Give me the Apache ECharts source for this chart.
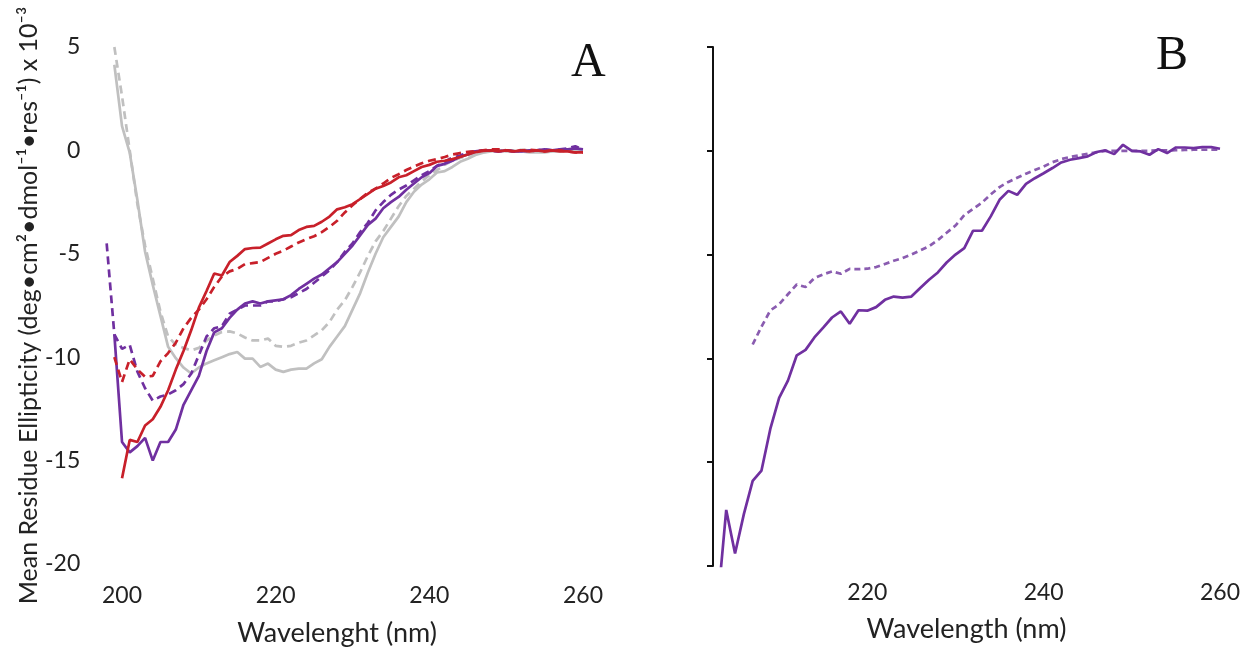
<!DOCTYPE html>
<html>
<head>
<meta charset="utf-8">
<script src="https://cdn.jsdelivr.net/npm/echarts@6/dist/echarts.min.js"></script>
<style>html,body{margin:0;padding:0;background:#fff}#c{width:1243px;height:652px}</style>
</head>
<body>
<div id="c"></div>
<script>
// Panel A wavelengths (nm)
const wlA = [198,199,200,201,202,203,204,205,206,207,208,209,210,211,212,213,214,215,216,217,218,219,220,221,222,223,224,225,226,227,228,229,230,231,232,233,234,235,236,237,238,239,240,241,242,243,244,245,246,247,248,249,250,251,252,253,254,255,256,257,258,259,260];
const purpleSolidA = [null,-8.9,-14.1,-14.6,-14.3,-13.9,-15.0,-14.1,-14.1,-13.5,-12.3,-11.6,-10.9,-9.7,-8.8,-8.6,-8.1,-7.7,-7.4,-7.3,-7.4,-7.3,-7.25,-7.2,-7.0,-6.7,-6.45,-6.2,-6.0,-5.7,-5.4,-5.0,-4.6,-4.1,-3.6,-3.3,-2.8,-2.5,-2.25,-1.9,-1.6,-1.3,-1.1,-0.75,-0.65,-0.5,-0.3,-0.2,-0.05,0,0,-0.05,0,-0.05,-0.05,0,0,0.05,0,0.05,0.05,0.1,0.05];
const purpleDashA = [-4.5,-8.9,-9.6,-9.4,-10.7,-11.5,-12.1,-11.9,-11.8,-11.6,-11.3,-10.8,-9.9,-9.0,-8.6,-8.5,-7.9,-7.7,-7.5,-7.5,-7.5,-7.3,-7.3,-7.2,-7.1,-6.9,-6.7,-6.4,-6.1,-5.8,-5.4,-4.9,-4.5,-3.95,-3.5,-2.9,-2.5,-2.15,-1.9,-1.7,-1.45,-1.2,-1.0,-0.75,-0.55,-0.35,-0.25,-0.1,-0.05,0,0,-0.05,0,-0.05,0,-0.05,0,0.05,0,0.05,0.1,0.2,0.05];
const redSolidA = [null,null,-15.85,-14.0,-14.1,-13.3,-13.0,-12.4,-11.6,-10.6,-9.7,-8.7,-7.6,-6.8,-5.95,-6.05,-5.4,-5.1,-4.77,-4.72,-4.7,-4.5,-4.3,-4.13,-4.1,-3.85,-3.7,-3.65,-3.45,-3.2,-2.85,-2.75,-2.6,-2.35,-2.1,-1.85,-1.72,-1.55,-1.3,-1.2,-1.0,-0.8,-0.7,-0.55,-0.5,-0.42,-0.32,-0.2,-0.08,-0.02,0,-0.05,0,-0.05,0,-0.05,0,-0.05,0,-0.05,-0.05,-0.1,-0.1];
const redDashA = [null,-10.0,-11.2,-10.1,-10.6,-10.95,-10.9,-10.2,-9.8,-9.3,-8.6,-8.1,-7.7,-7.2,-6.6,-6.1,-5.85,-5.73,-5.5,-5.45,-5.4,-5.2,-5.0,-4.85,-4.65,-4.45,-4.29,-4.15,-3.95,-3.7,-3.4,-3.0,-2.65,-2.35,-2.05,-1.85,-1.6,-1.33,-1.15,-0.95,-0.78,-0.62,-0.5,-0.42,-0.32,-0.2,-0.13,-0.07,-0.04,0,0.05,0.05,0,-0.05,0,0.03,0,-0.05,0,0,-0.05,-0.1,-0.1];
const graySolidA = [null,4.14,1.17,-0.11,-2.4,-4.9,-6.5,-8.0,-9.5,-10.05,-10.5,-10.79,-10.5,-10.3,-10.15,-10.0,-9.85,-9.75,-10.07,-10.07,-10.47,-10.31,-10.6,-10.71,-10.6,-10.55,-10.55,-10.3,-10.1,-9.5,-9.0,-8.5,-7.7,-6.9,-5.9,-5.0,-4.2,-3.7,-3.2,-2.5,-2.0,-1.65,-1.4,-1.07,-1.0,-0.8,-0.55,-0.4,-0.22,-0.11,-0.05,0,-0.05,-0.05,-0.05,-0.1,-0.1,-0.1,-0.05,-0.05,0,0.05,0];
const grayDashA = [null,5.0,2.62,0.0,-2.6,-4.6,-6.2,-7.8,-9.0,-9.4,-9.55,-9.67,-9.55,-9.2,-8.95,-8.78,-8.75,-8.85,-9.05,-9.19,-9.19,-9.1,-9.45,-9.5,-9.45,-9.3,-9.19,-8.95,-8.7,-8.3,-7.7,-7.25,-6.6,-5.89,-5.1,-4.4,-3.9,-3.3,-2.7,-2.2,-1.85,-1.5,-1.2,-0.95,-0.7,-0.5,-0.37,-0.25,-0.15,-0.08,-0.03,0,0,0,0.03,0,0,0,0,0.03,0.05,0.05,0];

// Panel B wavelengths (nm)
const wlB = [203,204,205,206,207,208,209,210,211,212,213,214,215,216,217,218,219,220,221,222,223,224,225,226,227,228,229,230,231,232,233,234,235,236,237,238,239,240,241,242,243,244,245,246,247,248,249,250,251,252,253,254,255,256,257,258,259,260];
const solidB = [-22,-17.3,-19.4,-17.5,-15.9,-15.4,-13.4,-11.9,-11.07,-9.85,-9.59,-8.99,-8.52,-8.03,-7.74,-8.33,-7.68,-7.7,-7.53,-7.18,-7.02,-7.07,-7.02,-6.61,-6.21,-5.86,-5.38,-5.0,-4.69,-3.85,-3.85,-3.16,-2.36,-1.93,-2.12,-1.59,-1.32,-1.08,-0.83,-0.56,-0.43,-0.35,-0.27,-0.06,0.02,-0.16,0.29,0,-0.03,-0.19,0.08,-0.11,0.16,0.16,0.13,0.18,0.18,0.1];
const dashB = [null,null,null,null,-9.33,-8.47,-7.69,-7.39,-6.91,-6.44,-6.56,-6.13,-5.95,-5.81,-5.92,-5.69,-5.7,-5.68,-5.6,-5.45,-5.3,-5.17,-5.0,-4.8,-4.6,-4.3,-3.95,-3.6,-3.1,-2.8,-2.5,-2.1,-1.75,-1.5,-1.3,-1.1,-0.92,-0.76,-0.55,-0.4,-0.3,-0.22,-0.14,-0.08,0,0,0,0,0,0,0.02,0.02,0.03,0.04,0.05,0.05,0.05,0.05];

const yTicks = [-20,-15,-10,-5,0,5];
const xTicksA = [200,220,240,260];
const xTicksB = [220,240,260];

const PURPLE = '#7030A0', PURPLE_L = '#8a5cb0', RED = '#C8202A', GRAY = '#C0C0C0';
const FONT = 'Lato';
const pairs = (xs, ys) => xs.map((x, i) => [x, ys[i]]);

function line(name, xi, xs, ys, color, dash) {
  return {
    name, type: 'line', xAxisIndex: xi, yAxisIndex: xi,
    data: pairs(xs, ys), showSymbol: false, symbol: 'none', clip: true,
    lineStyle: {color, width: 2.7, type: dash || 'solid', cap: 'butt'},
    animation: false
  };
}

const chart = echarts.init(document.getElementById('c'), null, {renderer: 'canvas'});
chart.setOption({
  backgroundColor: '#fff',
  animation: false,
  textStyle: {fontFamily: FONT},
  grid: [
    {left: 91.3, top: 47, width: 491.7, height: 519},
    {left: 713, top: 47, width: 507, height: 519}
  ],
  xAxis: [
    {
      gridIndex: 0, type: 'value', min: 196, max: 260,
      axisLine: {show: false}, axisTick: {show: false}, splitLine: {show: false},
      axisLabel: {customValues: xTicksA, fontSize: 23, color: '#222', margin: 20, fontFamily: FONT},
      name: 'Wavelenght (nm)', nameLocation: 'middle', nameGap: 56,
      nameTextStyle: {fontSize: 27, color: '#222', fontFamily: FONT}
    },
    {
      gridIndex: 1, type: 'value', min: 202.5, max: 260,
      axisLine: {show: false}, axisTick: {show: false}, splitLine: {show: false},
      axisLabel: {customValues: xTicksB, fontSize: 23, color: '#222', margin: 15, fontFamily: FONT},
      name: 'Wavelength (nm)', nameLocation: 'middle', nameGap: 50,
      nameTextStyle: {fontSize: 27, color: '#222', fontFamily: FONT}
    }
  ],
  yAxis: [
    {
      gridIndex: 0, type: 'value', min: -20, max: 5, interval: 5,
      axisLine: {show: false}, axisTick: {show: false}, splitLine: {show: false},
      axisLabel: {customValues: yTicks, fontSize: 23, color: '#222', margin: 11, fontFamily: FONT},
      name: 'Mean Residue Ellipticity (deg•cm²•dmol⁻¹•res⁻¹) x 10⁻³',
      nameLocation: 'middle', nameGap: 49, nameRotate: 90,
      nameTextStyle: {fontSize: 25, color: '#222', fontFamily: FONT}
    },
    {
      gridIndex: 1, type: 'value', min: -20, max: 5, interval: 5,
      axisLine: {show: true, lineStyle: {color: '#111', width: 2}},
      axisTick: {show: true, length: 6, inside: false, lineStyle: {color: '#111', width: 2}},
      splitLine: {show: false},
      axisLabel: {show: false}
    }
  ],
  graphic: [
    {type: 'text', left: 571, top: 39, style: {text: 'A', font: '48px "Liberation Serif"', fill: '#111'}},
    {type: 'text', left: 1156, top: 32, style: {text: 'B', font: '48px "Liberation Serif"', fill: '#111'}}
  ],
  series: [
    line('Gray solid', 0, wlA, graySolidA, GRAY),
    line('Gray dashed', 0, wlA, grayDashA, GRAY, [8, 5]),
    line('Purple dashed', 0, wlA, purpleDashA, PURPLE, [8, 5]),
    line('Purple solid', 0, wlA, purpleSolidA, PURPLE),
    line('Red dashed', 0, wlA, redDashA, RED, [8, 5]),
    line('Red solid', 0, wlA, redSolidA, RED),
    line('B dashed', 1, wlB, dashB, PURPLE_L, [6, 4]),
    line('B solid', 1, wlB, solidB, PURPLE)
  ]
});
</script>
</body>
</html>
